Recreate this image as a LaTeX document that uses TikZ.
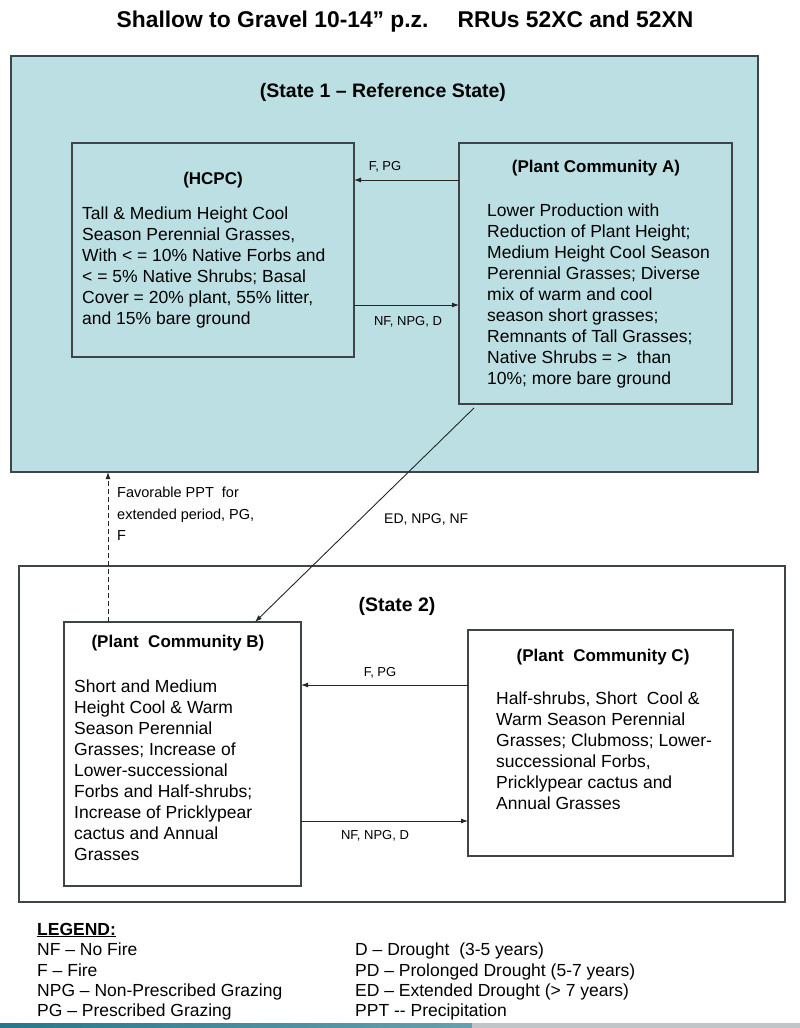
\documentclass[tikz,border=0pt]{standalone}
\usepackage{fontspec}
\setmainfont{Liberation Sans}
\usetikzlibrary{arrows.meta}

\definecolor{stateblue}{RGB}{187,223,227}
\definecolor{boxline}{RGB}{62,68,72}
\definecolor{bandteal}{RGB}{36,120,140}
\definecolor{bandgrey}{RGB}{192,198,200}

\newcommand{\bodysize}{\fontsize{17.5}{21}\selectfont}
\newcommand{\headsize}{\fontsize{17}{19}\bfseries\selectfont}
\newcommand{\statesize}{\fontsize{19.5}{22}\bfseries\selectfont}
\newcommand{\lblsize}{\fontsize{13}{15}\selectfont}

\begin{document}
\begin{tikzpicture}[x=1pt,y=-1pt,
		box/.style={draw=boxline,line width=1.3pt,inner sep=0pt,outer sep=0pt},
		body/.style={inner sep=0pt,anchor=north west,align=left,font=\bodysize},
		head/.style={inner sep=0pt,font=\headsize},
		lbl/.style={inner sep=0pt,font=\lblsize},
		arr/.style={-{Latex[length=7pt,width=5pt]},line width=0.9pt,draw=black!85}]
			\useasboundingbox (0,0) rectangle (800,1028);
			% title
			\node[inner sep=0pt,font=\fontsize{22.8}{26}\bfseries\selectfont] (title) at (405,22) {Shallow to Gravel 10-14" p.z.\quad\ RRUs 52XC and 52XN};
			% state 1
			\node[box,fill=stateblue,minimum width=747pt,minimum height=416pt] (state1) at (384.5,264) {};
			\node[inner sep=0pt,font=\statesize] (state1name) at (383,92) {(State 1 -- Reference State)};
			\node[box,minimum width=282pt,minimum height=214pt] (hcpc) at (213,250) {};
			\node[box,minimum width=273pt,minimum height=261pt] (pca) at (595.5,273.5) {};
			\node[head] (hcpcname) at (213,180) {(HCPC)};
			\node[head] (pcaname) at (596,168) {(Plant Community A)};
			\node[body] (hcpctext) at (82,207) {Tall \& Medium Height Cool\\Season Perennial Grasses,\\With < = 10\% Native Forbs and\\< = 5\% Native Shrubs; Basal\\Cover = 20\% plant, 55\% litter,\\and 15\% bare ground};
			\node[body] (pcatext) at (487,204) {Lower Production with\\Reduction of Plant Height;\\Medium Height Cool Season\\Perennial Grasses; Diverse\\mix of warm and cool\\season short grasses;\\Remnants of Tall Grasses;\\Native Shrubs = >\ \ than\\10\%; more bare ground};
			\coordinate (afrom) at ([yshift=-37pt]pca.north west);
			\coordinate (hfrom) at ([yshift=-162pt]hcpc.north east);
			\draw[arr] (afrom) -- (afrom -| hcpc.east);
			\draw[arr] (hfrom) -- (hfrom -| pca.west);
			\node[lbl] (fpg1) at (385,167) {F, PG};
			\node[lbl] (nfnpgd1) at (408,322) {NF, NPG, D};
			% state 2
			\node[box,minimum width=766pt,minimum height=336pt] (state2) at (402,734) {};
			\node[inner sep=0pt,font=\statesize] (state2name) at (397,606) {(State 2)};
			\node[box,minimum width=237pt,minimum height=264pt] (pcb) at (182.5,754) {};
			\node[box,minimum width=265pt,minimum height=226pt] (pcc) at (600.5,743) {};
			\node[head] (pcbname) at (178,643) {(Plant\ \ Community B)};
			\node[head] (pccname) at (603,657) {(Plant\ \ Community C)};
			\node[body] (pcbtext) at (74,680) {Short and Medium\\Height Cool \& Warm\\Season Perennial\\Grasses; Increase of\\Lower-successional\\Forbs and Half-shrubs;\\Increase of Pricklypear\\cactus and Annual\\Grasses};
			\node[body] (pcctext) at (496,692) {Half-shrubs, Short\ \ Cool \&\\Warm Season Perennial\\Grasses; Clubmoss; Lower-\\successional Forbs,\\Pricklypear cactus and\\Annual Grasses};
			\coordinate (cfrom) at ([yshift=-55pt]pcc.north west);
			\coordinate (bfrom) at ([yshift=-199pt]pcb.north east);
			\draw[arr] (cfrom) -- (cfrom -| pcb.east);
			\draw[arr] (bfrom) -- (bfrom -| pcc.west);
			\node[lbl] (fpg2) at (380,673) {F, PG};
			\node[lbl] (nfnpgd2) at (375,836) {NF, NPG, D};
			% between states
			\draw[arr] ([xshift=15pt,yshift=-4pt]pca.south west) -- ([xshift=-46pt]pcb.north east);
			\node[lbl,anchor=west,font=\fontsize{14}{16}\selectfont] (ednpgnf) at (384,520) {ED, NPG, NF};
			\coordinate (bup) at ([xshift=44pt]pcb.north west);
			\draw[arr,dash pattern=on 5pt off 3pt] (bup) -- (bup |- state1.south);
			\node[lbl,anchor=north west,align=left,font=\fontsize{14.5}{21.5}\selectfont] (favppt) at (117,487) {Favorable PPT\ \ for\\extended period, PG,\\F};
			% legend
			\node[inner sep=0pt,anchor=west,font=\fontsize{17.5}{20}\bfseries\selectfont] (legend) at (37,930) {\underline{LEGEND:}};
			\node[inner sep=0pt,anchor=north west,align=left,font=\fontsize{17.5}{20.3}\selectfont] (legleft) at (37,943) {NF -- No Fire\\F -- Fire\\NPG -- Non-Prescribed Grazing\\PG -- Prescribed Grazing};
			\node[inner sep=0pt,anchor=north west,align=left,font=\fontsize{17.5}{20.3}\selectfont] (legright) at (355,943) {D -- Drought\ \ (3-5 years)\\PD -- Prolonged Drought (5-7 years)\\ED -- Extended Drought (> 7 years)\\PPT -{}- Precipitation};
			% bottom band
			\shade[left color=bandteal,right color=bandteal!70!white] (0,1023) rectangle (472,1028);
			\fill[bandgrey] (472,1023) rectangle (800,1028);
		\end{tikzpicture}
\end{document}
